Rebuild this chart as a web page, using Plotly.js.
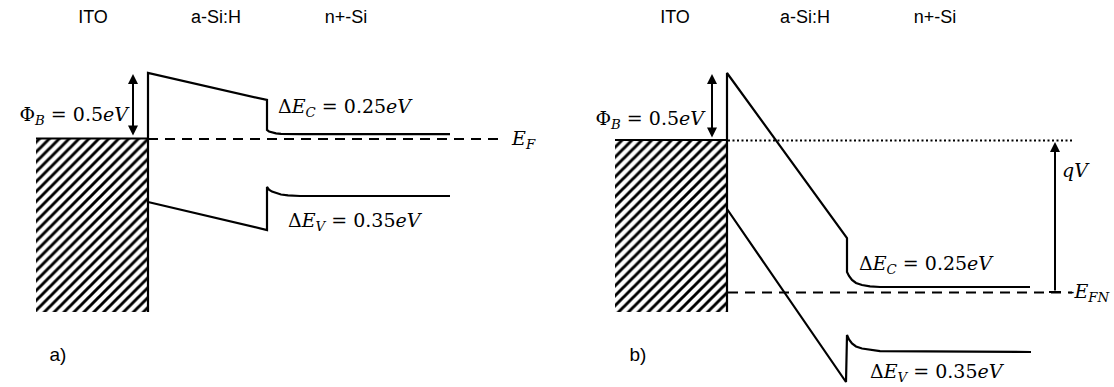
<!DOCTYPE html>
<html>
<head>
<meta charset="utf-8">
<script src="https://cdn.plot.ly/plotly-3.0.1.min.js"></script>
<style>html,body{margin:0;padding:0;background:#fff;}#chart{width:1114px;height:387px;}</style>
</head>
<body>
<div id="chart"></div>
<script>
// ---- Panel a) (diagram units, y grows downward = lower energy) ----
var metalA_x = [36, 148, 148, 36];
var metalA_y = [138.5, 138.5, 312, 312];
var cbA_x = [148, 148, 267, 267, 269, 272, 276, 281, 288, 300, 450];
var cbA_y = [312, 73, 100, 130, 131.5, 132.6, 133.3, 133.8, 134.1, 134.2, 134.2];
var vbA_x = [148, 267, 267, 269, 272, 276, 281, 288, 300, 450];
var vbA_y = [202, 230, 187, 189.6, 191.6, 193.2, 194.5, 195.4, 196, 196];
var efA_x = [148, 498];
var efA_y = [139, 139];
var phiA = {x: 133, top: 74, bottom: 137};

// ---- Panel b) ----
var metalB_x = [615, 727, 727, 615];
var metalB_y = [140, 140, 312, 312];
var cbB_x = [727, 727, 847, 847, 849, 852, 856, 862, 870, 880, 1030];
var cbB_y = [312, 73, 238, 272, 276, 280, 283, 285, 286.4, 287, 287];
var vbB_x = [727, 846, 847, 849, 852, 856, 862, 870, 880, 1031];
var vbB_y = [209, 382, 335, 339.5, 343.5, 346.5, 348.5, 350, 351.2, 352];
var efmB_x = [728, 1072];
var efmB_y = [140.5, 140.5];
var efnB_x = [728, 1072];
var efnB_y = [292.5, 292.5];
var phiB = {x: 712, top: 74, bottom: 139};
var qV = {x: 1055, top: 142, bottom: 292};

// ---- Text labels ----
var headerLabels = ['ITO', 'a-Si:H', 'n+-Si', 'ITO', 'a-Si:H', 'n+-Si'];
var headerX = [93, 216, 346, 675, 805, 935];
var headerY = [18, 18, 18, 18, 18, 18];
var panelLabels = ['a)', 'b)'];
var panelX = [58, 638];
var panelY = [356, 356];

var leftLabels = ['Φ<sub><i>B</i></sub> = 0.5<i>eV</i>', 'Φ<sub><i>B</i></sub> = 0.5<i>eV</i>'];
var leftX = [128, 704];
var leftY = [116, 120];
var rightLabels = [
  'Δ<i>E</i><sub><i>C</i></sub> = 0.25<i>eV</i>',
  'Δ<i>E</i><sub><i>V</i></sub> = 0.35<i>eV</i>',
  '<i>E</i><sub><i>F</i></sub>',
  'Δ<i>E</i><sub><i>C</i></sub> = 0.25<i>eV</i>',
  'Δ<i>E</i><sub><i>V</i></sub> = 0.35<i>eV</i>',
  '<i>qV</i>',
  '-<i>E</i><sub><i>FN</i></sub>'
];
var rightX = [278, 288, 512, 859, 870, 1062, 1068];
var rightY = [108, 222, 140, 265, 373, 172, 293];

var K = '#000';
function line(x, y, w, dash) {
  return {x: x, y: y, mode: 'lines', type: 'scatter', hoverinfo: 'skip',
          line: {color: K, width: w, dash: dash || 'solid', shape: 'linear'}, showlegend: false};
}
function hatch(x, y) {
  return {x: x, y: y, mode: 'none', type: 'scatter', fill: 'toself', hoverinfo: 'skip',
          fillcolor: 'rgba(0,0,0,0)',
          fillpattern: {shape: '/', size: 7, solidity: 0.42, fgcolor: K, bgcolor: '#fff'},
          showlegend: false};
}
function texts(x, y, t, pos, family, size) {
  return {x: x, y: y, text: t, mode: 'text', type: 'scatter', hoverinfo: 'skip',
          textposition: pos, cliponaxis: false, showlegend: false,
          textfont: {family: family, size: size, color: K}};
}
var SANS = 'Liberation Sans, Arial, sans-serif';
var SERIF = 'DejaVu Serif, Liberation Serif, serif';

var traces = [
  hatch(metalA_x, metalA_y),
  hatch(metalB_x, metalB_y),
  line([metalA_x[0], metalA_x[1]], [metalA_y[0], metalA_y[1]], 2.2),
  line([metalB_x[0], metalB_x[1]], [metalB_y[0], metalB_y[1]], 2.2),
  line(efA_x, efA_y, 2, '10px,7px'),
  line(efmB_x, efmB_y, 2, '2px,2.5px'),
  line(efnB_x, efnB_y, 2, '10px,7px'),
  line(cbA_x, cbA_y, 2.2),
  line(vbA_x, vbA_y, 2.2),
  line(cbB_x, cbB_y, 2.2),
  line(vbB_x, vbB_y, 2.2),
  line([qV.x - 6, qV.x + 6], [qV.bottom, qV.bottom], 2),
  texts(headerX, headerY, headerLabels, 'middle center', SANS, 18),
  texts(panelX, panelY, panelLabels, 'middle center', SANS, 19),
  texts(leftX, leftY, leftLabels, 'middle left', SERIF, 19),
  texts(rightX, rightY, rightLabels, 'middle right', SERIF, 19)
];

var annotations = [];
function arrow(a, both) {
  annotations.push({x: a.x, y: a.top, ax: a.x, ay: a.bottom, xref: 'x', yref: 'y', axref: 'x', ayref: 'y',
    text: '', showarrow: true, arrowhead: 2, arrowsize: 1, arrowwidth: 2, arrowcolor: K,
    arrowside: both ? 'end+start' : 'end', standoff: 0, startstandoff: 0});
}
arrow(phiA, true);
arrow(phiB, true);
arrow(qV, false);

var layout = {
  width: 1114, height: 387,
  margin: {l: 0, r: 0, t: 0, b: 0},
  paper_bgcolor: '#fff', plot_bgcolor: '#fff',
  xaxis: {range: [0, 1114], visible: false, fixedrange: true},
  yaxis: {range: [387, 0], visible: false, fixedrange: true},
  showlegend: false,
  annotations: annotations
};

Plotly.newPlot('chart', traces, layout, {displayModeBar: false, staticPlot: true});
</script>
</body>
</html>
